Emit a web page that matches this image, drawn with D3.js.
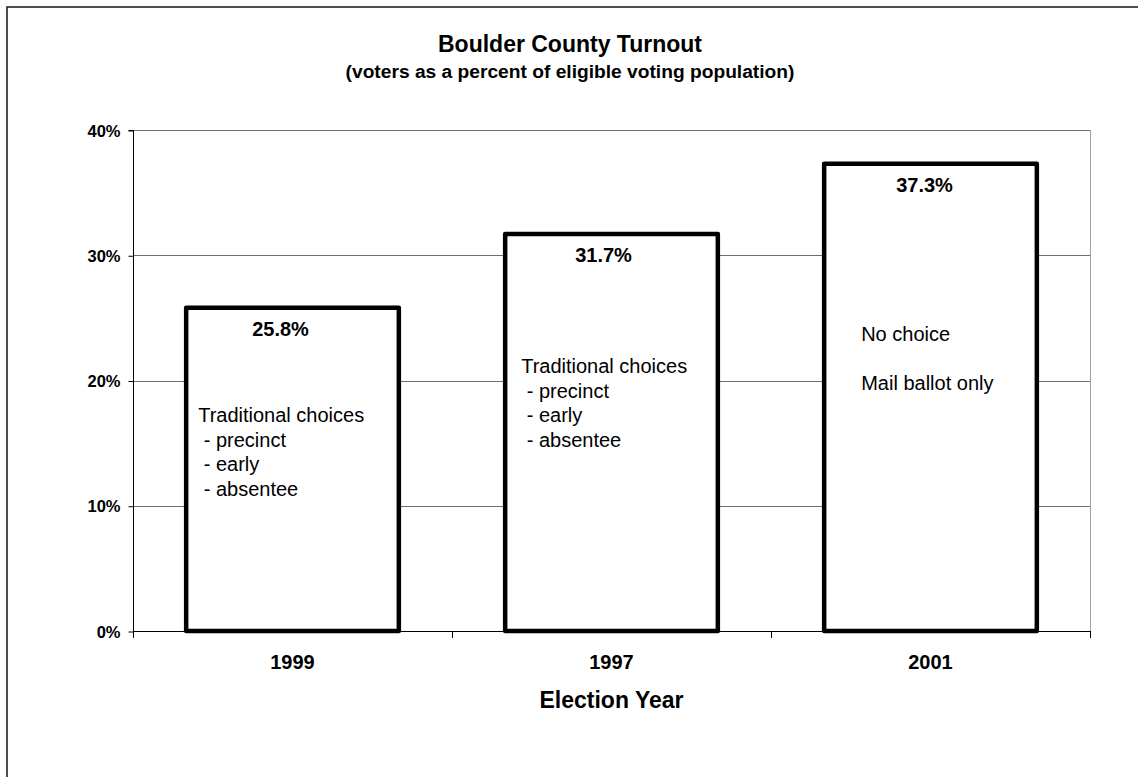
<!DOCTYPE html>
<html>
<head>
<meta charset="utf-8">
<script src="https://cdn.jsdelivr.net/npm/d3@7/dist/d3.min.js"></script>
<style>
  html, body { margin: 0; padding: 0; background: #fff; }
  svg { display: block; }
  text { font-family: "Liberation Sans", Arial, Helvetica, sans-serif; fill: #000; white-space: pre; }
</style>
</head>
<body>
<svg id="chart" width="1138" height="777"></svg>
<script>
// ---- data ----
const categories = ["1999", "1997", "2001"];
const turnout = [25.8, 31.7, 37.3];
const valueLabels = ["25.8%", "31.7%", "37.3%"];
const yTicks = [0, 10, 20, 30, 40];
const yTickLabels = ["0%", "10%", "20%", "30%", "40%"];
const notes = [
  ["Traditional choices", " - precinct", " - early", " - absentee"],
  ["Traditional choices", " - precinct", " - early", " - absentee"],
  ["No choice", "", "Mail ballot only"]
];
const titleText = "Boulder County Turnout";
const subtitleText = "(voters as a percent of eligible voting population)";
const xTitle = "Election Year";

// ---- layout ----
const W = 1138, H = 777;
const plot = { left: 133, right: 1090, top: 130, bottom: 631 };
// note anchor offsets (from bar left, and first baseline in px)
const noteLayout = [
  { dx: 12, y: 422 },
  { dx: 16, y: 373 },
  { dx: 37, y: 341 }
];
const labelShift = [-12, -8, -6];
const noteLine = 24.5;

const svg = d3.select("#chart");

// outer chart-area border
svg.append("rect")
  .attr("x", 7).attr("y", 7)
  .attr("width", 1300).attr("height", 1000)
  .attr("fill", "#fff").attr("stroke", "#222").attr("stroke-width", 1.6);

const x = d3.scaleBand()
  .domain(categories)
  .range([plot.left, plot.right])
  .paddingInner(1/3).paddingOuter(1/6);
const xOuter = d3.scaleBand().domain(categories).range([plot.left, plot.right]).padding(0);
const y = d3.scaleLinear().domain([0, 40]).range([plot.bottom, plot.top]);

// gridlines
svg.append("g").selectAll("line")
  .data(yTicks.filter(d => d > 0))
  .join("line")
  .attr("x1", plot.left).attr("x2", plot.right)
  .attr("y1", d => Math.round(y(d)) + 0.5).attr("y2", d => Math.round(y(d)) + 0.5)
  .attr("stroke", "#6e6e6e").attr("stroke-width", 1);

// right plot border
svg.append("line")
  .attr("x1", plot.right + 0.5).attr("x2", plot.right + 0.5)
  .attr("y1", plot.top).attr("y2", plot.bottom)
  .attr("stroke", "#a0a0a0").attr("stroke-width", 1);

// y axis
const yAxis = d3.axisLeft(y)
  .tickValues(yTicks)
  .tickFormat((d, i) => yTickLabels[i])
  .tickSize(5).tickPadding(8);
const gy = svg.append("g")
  .attr("transform", `translate(${plot.left + 0.5},0.5)`)
  .call(yAxis);
gy.select(".domain").attr("stroke", "#000").attr("d", `M-5,${plot.top}H0V${plot.bottom}`);
gy.selectAll(".tick line").attr("stroke", "#000");
gy.selectAll(".tick text")
  .attr("font-size", 16.5).attr("font-weight", "bold")
  .attr("font-family", "Liberation Sans, Arial, sans-serif")
  .attr("dy", "0.34em");

// x axis line + ticks at category boundaries
const boundaries = categories.map(c => xOuter(c)).concat([plot.right]);
svg.append("line")
  .attr("x1", plot.left).attr("x2", plot.right)
  .attr("y1", plot.bottom + 0.5).attr("y2", plot.bottom + 0.5)
  .attr("stroke", "#000");
svg.append("g").selectAll("line")
  .data(boundaries)
  .join("line")
  .attr("x1", d => Math.round(d) + 0.5).attr("x2", d => Math.round(d) + 0.5)
  .attr("y1", plot.bottom).attr("y2", plot.bottom + 7)
  .attr("stroke", "#000");

// x labels
svg.append("g").selectAll("text")
  .data(categories)
  .join("text")
  .attr("x", d => x(d) + x.bandwidth() / 2)
  .attr("y", 669)
  .attr("text-anchor", "middle")
  .attr("font-size", 20).attr("font-weight", "bold")
  .text(d => d);

// bars
svg.append("g").selectAll("rect")
  .data(categories)
  .join("rect")
  .attr("x", d => x(d))
  .attr("y", (d, i) => y(turnout[i]))
  .attr("width", x.bandwidth())
  .attr("height", (d, i) => y(0) - y(turnout[i]))
  .attr("fill", "#fff")
  .attr("stroke", "#000")
  .attr("stroke-width", 4.5)
  .attr("stroke-linejoin", "round");

// value labels
svg.append("g").selectAll("text")
  .data(categories)
  .join("text")
  .attr("x", (d, i) => x(d) + x.bandwidth() / 2 + labelShift[i])
  .attr("y", (d, i) => y(turnout[i]) + 28.5)
  .attr("text-anchor", "middle")
  .attr("font-size", 20).attr("font-weight", "bold")
  .text((d, i) => valueLabels[i]);

// notes inside bars
categories.forEach((c, i) => {
  const t = svg.append("text")
    .attr("font-size", 20)
    .attr("xml:space", "preserve");
  notes[i].forEach((line, j) => {
    t.append("tspan")
      .attr("x", x(c) + noteLayout[i].dx)
      .attr("y", noteLayout[i].y + j * noteLine)
      .text(line);
  });
});

// titles
svg.append("text")
  .attr("x", 570).attr("y", 51.5)
  .attr("text-anchor", "middle")
  .attr("font-size", 23).attr("font-weight", "bold")
  .text(titleText);
svg.append("text")
  .attr("x", 570).attr("y", 78)
  .attr("text-anchor", "middle")
  .attr("font-size", 19.2).attr("font-weight", "bold")
  .text(subtitleText);
svg.append("text")
  .attr("x", (plot.left + plot.right) / 2).attr("y", 708)
  .attr("text-anchor", "middle")
  .attr("font-size", 23).attr("font-weight", "bold")
  .text(xTitle);
</script>
</body>
</html>
